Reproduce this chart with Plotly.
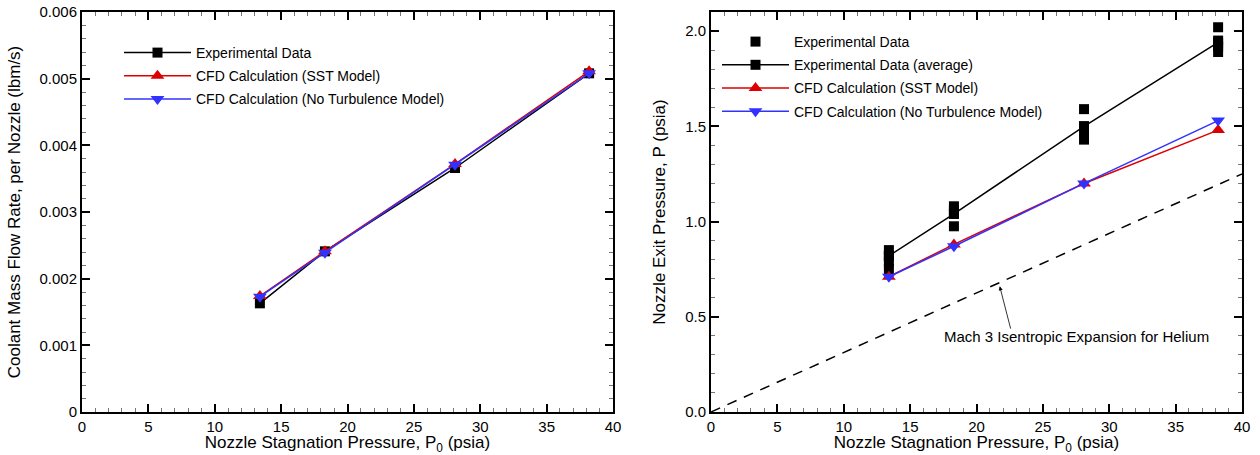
import plotly.graph_objects as go

# ---------------- data ----------------
p0 = [13.4, 18.3, 28.1, 38.2]

# left: coolant mass flow rate per nozzle (lbm/s)
mdot_exp = [0.00163, 0.00241, 0.00366, 0.00508]
mdot_sst = [0.00174, 0.00241, 0.00372, 0.00511]
mdot_noturb = [0.00173, 0.00239, 0.00371, 0.00508]

# right: nozzle exit pressure (psia)
exp_p0_all = [13.4, 13.4, 13.4, 13.4,
              18.3, 18.3, 18.3, 18.3,
              28.1, 28.1, 28.1, 28.1,
              38.2, 38.2, 38.2, 38.2]
exp_p_all = [0.85, 0.82, 0.79, 0.75,
             1.08, 1.06, 1.04, 0.975,
             1.59, 1.50, 1.47, 1.43,
             2.02, 1.95, 1.92, 1.89]
p_exp_avg = [0.82, 1.04, 1.50, 1.94]
p_sst = [0.71, 0.88, 1.20, 1.48]
p_noturb = [0.71, 0.87, 1.20, 1.53]

isen_p0 = [0, 40]
isen_p = [0, 1.25]

x_tickvals = [0, 5, 10, 15, 20, 25, 30, 35, 40]
x_ticktext = ["0", "5", "10", "15", "20", "25", "30", "35", "40"]
yl_tickvals = [0, 0.001, 0.002, 0.003, 0.004, 0.005, 0.006]
yl_ticktext = ["0", "0.001", "0.002", "0.003", "0.004", "0.005", "0.006"]
yr_tickvals = [0, 0.5, 1.0, 1.5, 2.0]
yr_ticktext = ["0.0", "0.5", "1.0", "1.5", "2.0"]

# ---------------- styles ----------------
FONT = "Arial, Liberation Sans, Helvetica, sans-serif"
BLACK = "black"
RED = "rgb(220,0,0)"
BLUE = "rgb(50,50,255)"
SQ = 10
TRI = 12

fig = go.Figure()

# left plot
fig.add_trace(go.Scatter(x=p0, y=mdot_exp, mode="lines+markers", name="Experimental Data",
                         line=dict(color=BLACK, width=1.5),
                         marker=dict(symbol="square", size=SQ, color=BLACK),
                         xaxis="x", yaxis="y", legend="legend", legendgroup="a1"))
fig.add_trace(go.Scatter(x=p0, y=mdot_sst, mode="lines+markers", name="CFD Calculation (SST Model)",
                         line=dict(color=RED, width=1.5),
                         marker=dict(symbol="triangle-up", size=TRI, color=RED),
                         xaxis="x", yaxis="y", legend="legend", legendgroup="a2"))
fig.add_trace(go.Scatter(x=p0, y=mdot_noturb, mode="lines+markers", name="CFD Calculation (No Turbulence Model)",
                         line=dict(color=BLUE, width=1.5),
                         marker=dict(symbol="triangle-down", size=TRI, color=BLUE),
                         xaxis="x", yaxis="y", legend="legend", legendgroup="a3"))

# right plot
fig.add_trace(go.Scatter(x=isen_p0, y=isen_p, mode="lines", showlegend=False,
                         line=dict(color=BLACK, width=1.5, dash="10px,8px"),
                         xaxis="x2", yaxis="y2"))
fig.add_trace(go.Scatter(x=exp_p0_all, y=exp_p_all, mode="markers", name="Experimental Data",
                         marker=dict(symbol="square", size=SQ, color=BLACK),
                         xaxis="x2", yaxis="y2", legend="legend2", legendgroup="b1"))
fig.add_trace(go.Scatter(x=p0, y=p_exp_avg, mode="lines+markers", name="Experimental Data (average)",
                         line=dict(color=BLACK, width=1.5),
                         marker=dict(symbol="square", size=SQ, color=BLACK),
                         xaxis="x2", yaxis="y2", legend="legend2", legendgroup="b2"))
fig.add_trace(go.Scatter(x=p0, y=p_sst, mode="lines+markers", name="CFD Calculation (SST Model)",
                         line=dict(color=RED, width=1.5),
                         marker=dict(symbol="triangle-up", size=TRI, color=RED),
                         xaxis="x2", yaxis="y2", legend="legend2", legendgroup="b3"))
fig.add_trace(go.Scatter(x=p0, y=p_noturb, mode="lines+markers", name="CFD Calculation (No Turbulence Model)",
                         line=dict(color=BLUE, width=1.5),
                         marker=dict(symbol="triangle-down", size=TRI, color=BLUE),
                         xaxis="x2", yaxis="y2", legend="legend2", legendgroup="b4"))

W, H = 1260, 455
ML, MR, MT, MB = 82, 18, 12, 43
PW = W - ML - MR
PH = H - MT - MB


def px(xpix):
    return (xpix - ML) / PW


def py(ypix):
    return 1 - (ypix - MT) / PH


def common_axis():
    return dict(showline=True, linecolor=BLACK, linewidth=2, mirror="allticks",
                ticks="inside", ticklen=8, tickwidth=1.5, tickcolor=BLACK,
                showgrid=False, zeroline=False, automargin=False,
                tickfont=dict(family=FONT, size=15, color=BLACK))


xtitle = "Nozzle Stagnation Pressure, P<sub>0</sub> (psia)"
XT_FONT = dict(family=FONT, size=17, color=BLACK)
YT_FONT = dict(family=FONT, size=17, color=BLACK)

xa = common_axis()
xa.update(domain=[0, px(613)], range=[0, 40], tickmode="array", tickvals=x_tickvals, ticktext=x_ticktext,
          minor=dict(dtick=1, tick0=0, ticks="inside", ticklen=4, tickwidth=1, tickcolor="#777"),
          title=dict(text=xtitle, standoff=0, font=XT_FONT), anchor="y")
ya = common_axis()
ya.update(domain=[0, 1], range=[0, 0.006], tickmode="array", tickvals=yl_tickvals, ticktext=yl_ticktext,
          minor=dict(dtick=0.0002, tick0=0, ticks="inside", ticklen=4, tickwidth=1, tickcolor="#777"),
          title=dict(text="Coolant Mass Flow Rate, per Nozzle (lbm/s)", font=YT_FONT), anchor="x")
xa2 = common_axis()
xa2.update(domain=[px(711), 1], range=[0, 40], tickmode="array", tickvals=x_tickvals, ticktext=x_ticktext,
           minor=dict(dtick=1, tick0=0, ticks="inside", ticklen=4, tickwidth=1, tickcolor="#777"),
           title=dict(text=xtitle, standoff=0, font=XT_FONT), anchor="y2")
ya2 = common_axis()
ya2.update(domain=[0, 1], range=[0, 2.1], tickmode="array", tickvals=yr_tickvals, ticktext=yr_ticktext,
           minor=dict(dtick=0.1, tick0=0, ticks="inside", ticklen=4, tickwidth=1, tickcolor="#777"),
           title=dict(text="Nozzle Exit Pressure, P (psia)", font=YT_FONT), anchor="x2")

legend_common = dict(font=dict(family=FONT, size=14, color=BLACK), bgcolor="rgba(0,0,0,0)",
                     borderwidth=0, itemwidth=67, tracegroupgap=2, xanchor="left", yanchor="top",
                     itemclick=False, itemdoubleclick=False)

fig.update_layout(
    width=W, height=H,
    margin=dict(l=ML, r=MR, t=MT, b=MB, autoexpand=False),
    paper_bgcolor="white", plot_bgcolor="white",
    font=dict(family=FONT, size=14, color=BLACK),
    xaxis=xa, yaxis=ya, xaxis2=xa2, yaxis2=ya2,
    legend=dict(x=px(119), y=py(37), **legend_common),
    legend2=dict(x=px(717), y=py(26), **legend_common),
    annotations=[
        dict(text="Mach 3 Isentropic Expansion for Helium", x=27.5, y=0.395, xref="x2", yref="y2",
             showarrow=False, font=dict(family=FONT, size=15, color=BLACK)),
        dict(text="", x=21.75, y=0.66, ax=22.6, ay=0.43, xref="x2", yref="y2", axref="x2", ayref="y2",
             showarrow=True, arrowhead=2, arrowsize=1, arrowwidth=0.8, arrowcolor=BLACK, standoff=0),
    ],
)

fig.write_html("out.html", config={"displayModeBar": False},
               post_script="document.body.style.margin='0px';")
